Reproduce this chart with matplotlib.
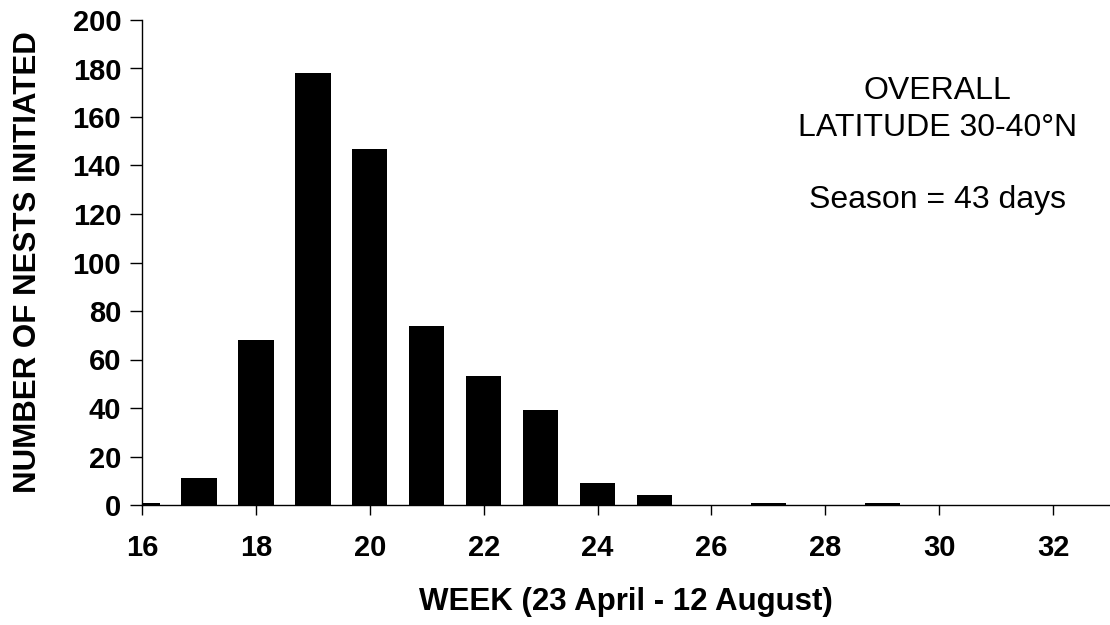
import numpy as np
import matplotlib.pyplot as plt

plt.rcParams['font.family'] = ['Liberation Sans', 'DejaVu Sans']

# nests initiated per week
weeks = [16, 17, 18, 19, 20, 21, 22, 23, 24, 25, 26, 27, 28, 29, 30, 31, 32]
nests = [1, 11, 68, 178, 147, 74, 53, 39, 9, 4, 0, 1, 0, 1, 0, 0, 0]

xticks = [16, 18, 20, 22, 24, 26, 28, 30, 32]
yticks = [0, 20, 40, 60, 80, 100, 120, 140, 160, 180, 200]

fig = plt.figure(figsize=(11.1, 6.25), dpi=100)
ax = fig.add_axes([0.128, 0.192, 0.872, 0.776])

ax.bar(weeks, nests, width=0.62, color='black')

ax.set_xlim(16, 33)
ax.set_ylim(0, 200)
ax.set_xticks(xticks)
ax.set_yticks(yticks)

for s in ['top', 'right']:
  ax.spines[s].set_visible(False)
for s in ['left', 'bottom']:
  ax.spines[s].set_linewidth(1.0)

ax.tick_params(axis='y', direction='out', length=9, width=1, pad=6, labelsize=21)
ax.tick_params(axis='x', direction='out', length=7, width=1, pad=14, labelsize=21)
for lab in ax.get_xticklabels() + ax.get_yticklabels():
  lab.set_fontweight('bold')

ax.set_xlabel('WEEK (23 April - 12 August)', fontsize=22.5, fontweight='bold', labelpad=18)
ax.set_ylabel('NUMBER OF NESTS INITIATED', fontsize=22.5, fontweight='bold', labelpad=21)

ax.text(0.822, 0.816, 'OVERALL\nLATITUDE 30-40°N', transform=ax.transAxes,
        ha='center', va='center', fontsize=23, linespacing=1.3)
ax.text(0.822, 0.629, 'Season = 43 days', transform=ax.transAxes,
        ha='center', va='center', fontsize=23)

plt.savefig('out.png', dpi=100)
